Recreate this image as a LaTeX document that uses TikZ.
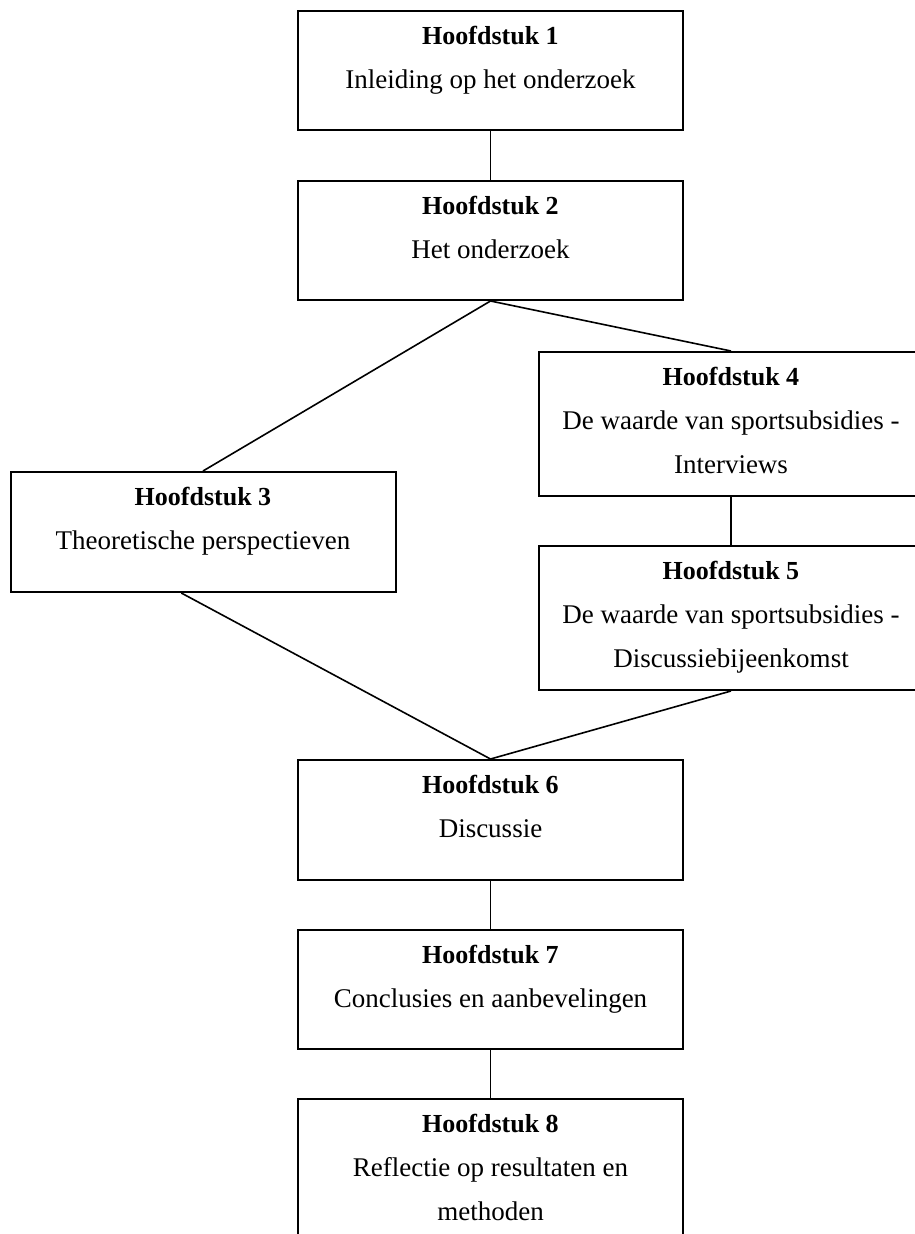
\documentclass[tikz,border=0pt]{standalone}
\usepackage{fontspec}
\setmainfont{Liberation Serif}
\usetikzlibrary{positioning,calc}

% box text: bold chapter number on top, description below
\newcommand{\hfd}[3]{\parbox[c][#1][t]{385pt}{\centering\fontsize{27}{44}\selectfont
  \rule{0pt}{33pt}{\fontsize{26}{44}\selectfont\textbf{Hoofdstuk #2}}\\#3}}

\begin{document}
\begin{tikzpicture}[
      x=1pt, y=-1pt,
      chap/.style={rectangle, draw=black, line width=2pt, inner sep=0pt, anchor=north},
      link/.style={line width=1.6pt, black}
    ]
      \useasboundingbox (0,0) rectangle (915,1234);

      \node[chap] (h1) at (490.5,10) {\hfd{119pt}{1}{Inleiding op het onderzoek}};
      \node[chap, below=49pt of h1] (h2) {\hfd{119pt}{2}{Het onderzoek}};
      \node[chap] (h3) at (203,471) {\hfd{120pt}{3}{Theoretische perspectieven}};
      \node[chap] (h4) at (731,351) {\hfd{144pt}{4}{De waarde van sportsubsidies -\\Interviews}};
      \node[chap, below=48pt of h4] (h5) {\hfd{144pt}{5}{De waarde van sportsubsidies -\\Discussiebijeenkomst}};
      \node[chap] (h6) at (490.5,759) {\hfd{120pt}{6}{Discussie}};
      \node[chap, below=48pt of h6] (h7) {\hfd{119pt}{7}{Conclusies en aanbevelingen}};
      \node[chap, below=48pt of h7] (h8) {\hfd{144pt}{8}{Reflectie op resultaten en\\methoden}};

      \draw[link] (h1) -- (h2);
      \draw[link] (h2.south) -- (h3.north);
      \draw[link] (h2.south) -- (h4.north);
      \draw[link] (h4) -- (h5);
      \draw[link] ($(h3.south west)!0.444!(h3.south east)$) -- (h6.north);
      \draw[link] (h5.south) -- (h6.north);
      \draw[link] (h6) -- (h7);
      \draw[link] (h7) -- (h8);
    \end{tikzpicture}
\end{document}
